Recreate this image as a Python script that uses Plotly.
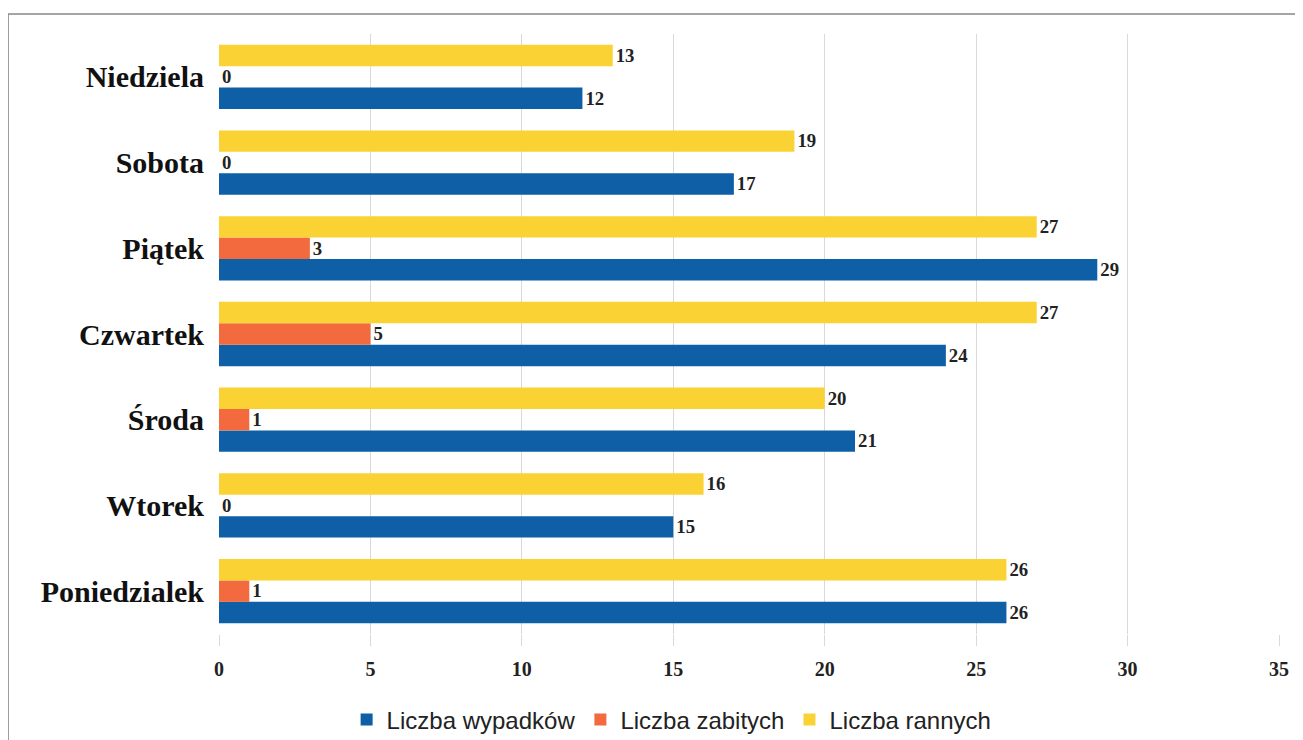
import plotly.graph_objects as go

days = ["Poniedzialek", "Wtorek", "Środa", "Czwartek", "Piątek", "Sobota", "Niedziela"]
wypadki = [26, 15, 21, 24, 29, 17, 12]
zabici = [1, 0, 1, 5, 3, 0, 0]
ranni = [26, 16, 20, 27, 27, 19, 13]
x_ticks = [0, 5, 10, 15, 20, 25, 30, 35]

series = [
    ("Liczba wypadków", wypadki, "#0E5FA6"),
    ("Liczba zabitych", zabici, "#F26A3D"),
    ("Liczba rannych", ranni, "#FBD233"),
]

fig = go.Figure()
for name, vals, col in series:
    fig.add_trace(go.Bar(
        y=days, x=vals, name=name, orientation="h",
        marker=dict(color=col, line=dict(width=0)),
        text=[str(v) for v in vals], textposition="outside",
        textfont=dict(family="Liberation Serif", size=21, color="#222222", weight="bold"),
        cliponaxis=False,
    ))

fig.update_layout(
    width=1303, height=740,
    barmode="group", bargap=0.25, bargroupgap=0,
    paper_bgcolor="white", plot_bgcolor="white",
    margin=dict(l=211, r=32, t=26, b=114, autoexpand=False),
    font=dict(family="Liberation Serif", color="#222222"),
    xaxis=dict(range=[0, 35], tickvals=x_ticks, showgrid=True, gridcolor="#d9d9d9",
               gridwidth=1, zeroline=False, showline=False,
               ticks="outside", ticklen=11, tickcolor="#d9d9d9", tickwidth=1,
               ticklabelstandoff=6,
               tickfont=dict(family="Liberation Serif", size=20, color="#222222", weight="bold"),
               fixedrange=True),
    yaxis=dict(showgrid=False, showline=False, ticks="", ticklabelstandoff=14,
               tickfont=dict(family="Liberation Serif", size=30, color="#111111", weight="bold"),
               fixedrange=True),
    legend=dict(orientation="h", x=0.427, xanchor="center", y=-0.1433, yanchor="middle",
                font=dict(family="Liberation Sans", size=24, color="#222222"),
                itemwidth=30, traceorder="normal"),
    shapes=[dict(type="rect", xref="paper", yref="paper", x0=-0.199, x1=1.0198,
                 y0=-0.3, y1=1.0333, line=dict(color="#888888", width=1.5))],
)

fig.write_html("out.html")
